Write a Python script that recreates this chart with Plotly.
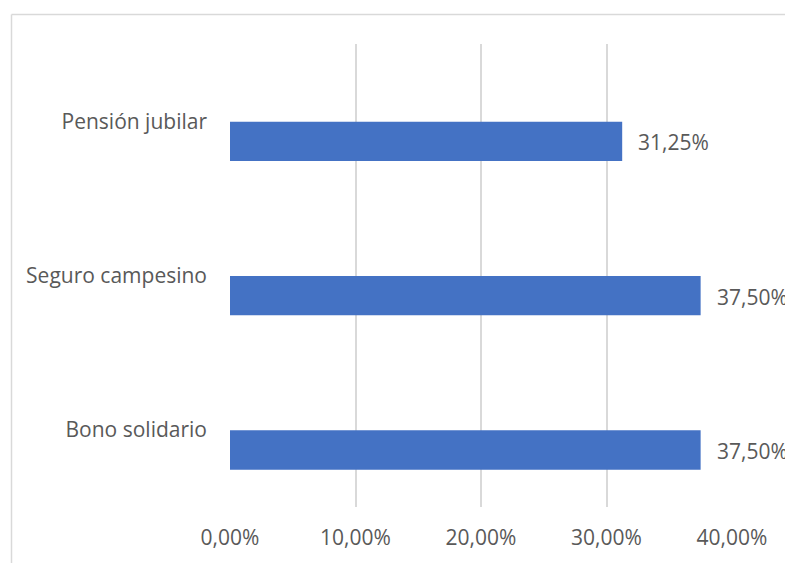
import plotly.graph_objects as go

# Benefit categories (bottom to top) and their shares
categories = ["Bono solidario", "Seguro campesino", "Pensión jubilar"]
shares = [0.375, 0.375, 0.3125]
x_ticks = [0, 0.1, 0.2, 0.3, 0.4]

BAR_COLOR = "#4472C4"
TEXT_COLOR = "#595959"
GRID_COLOR = "#d9d9d9"
FONT = "Open Sans, Lato, sans-serif"
FONT_SIZE = 21

W, H = 785, 563
L, R, T, B = 230, 53, 44, 56
plot_w = W - L - R
plot_h = H - T - B

# Bars sit just below the centre of their category band
fig = go.Figure(
    go.Bar(
        x=shares,
        y=categories,
        orientation="h",
        width=0.255,
        offset=-0.258,
        marker=dict(color=BAR_COLOR, line=dict(width=0)),
        hoverinfo="skip",
    )
)

# Value labels to the right of each bar
def pct_label(v):
    return f"{v * 100:.2f}%".replace(".", ",")

for cat, v in zip(categories, shares):
    fig.add_annotation(
        x=v, y=cat, xref="x", yref="y",
        text=pct_label(v), showarrow=False,
        xanchor="left", yanchor="middle", xshift=14, yshift=-21,
        font=dict(family=FONT, size=FONT_SIZE, color=TEXT_COLOR),
    )

# Outer chart frame (top and left edges)
fx = (11.5 - L) / plot_w
fy = (H - B - 14.5) / plot_h
fig.add_shape(type="line", xref="paper", yref="paper",
              x0=fx, x1=1.5, y0=fy, y1=fy,
              line=dict(color=GRID_COLOR, width=1.5))
fig.add_shape(type="line", xref="paper", yref="paper",
              x0=fx, x1=fx, y0=fy, y1=-0.5,
              line=dict(color=GRID_COLOR, width=1.5))

fig.update_layout(
    width=W, height=H,
    margin=dict(l=L, r=R, t=T, b=B),
    plot_bgcolor="white", paper_bgcolor="white",
    separators=",.",
    showlegend=False,
    font=dict(family=FONT, size=FONT_SIZE, color=TEXT_COLOR),
    xaxis=dict(
        range=[0, 0.4],
        tickvals=x_ticks,
        tickformat=".2%",
        showgrid=True, gridcolor=GRID_COLOR, gridwidth=1.5,
        zeroline=False, showline=False, ticks="",
        ticklabelstandoff=16,
        fixedrange=True,
    ),
    yaxis=dict(
        categoryorder="array", categoryarray=categories,
        showgrid=False, zeroline=False, showline=False, ticks="",
        ticklabelstandoff=22,
        fixedrange=True,
    ),
)

fig.write_html("out.html")
